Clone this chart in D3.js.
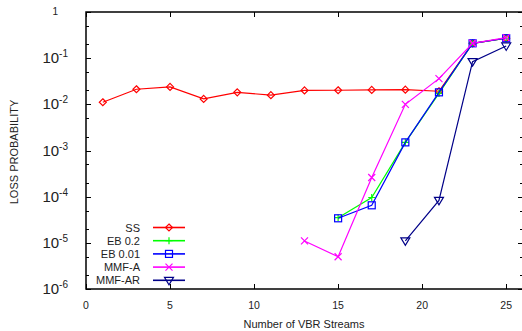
<!DOCTYPE html>
<html>
<head>
<meta charset="utf-8">
<script src="https://cdn.jsdelivr.net/npm/d3@7"></script>
<style>
  body { margin: 0; background: #fff; }
  svg { display: block; font-family: "Liberation Sans", Arial, sans-serif; }
</style>
</head>
<body>
<svg id="chart" width="522" height="331"></svg>
<script>
// values
const xOdd = [1, 3, 5, 7, 9, 11, 13, 15, 17, 19, 21, 23, 25];
const ssValues = [0.0111, 0.0212, 0.0238, 0.0131, 0.0182, 0.0158, 0.0200, 0.0202, 0.0205, 0.0208, 0.0192, 0.21, 0.27];

const xEb = [15, 17, 19, 21, 23, 25];
const eb02Values = [3.5e-5, 9.6e-5, 1.5e-3, 0.0172, 0.21, 0.27];
const eb001Values = [3.4e-5, 6.5e-5, 1.5e-3, 0.0182, 0.21, 0.27];

const xMmfA = [13, 15, 17, 19, 21, 23, 25];
const mmfAValues = [1.1e-5, 5.0e-6, 2.6e-4, 0.0100, 0.036, 0.21, 0.278];

const xMmfAr = [19, 21, 23, 25];
const mmfArValues = [1.1e-5, 8.3e-5, 0.084, 0.184];

const xTicks = [0, 5, 10, 15, 20, 25];
const yDecades = [0, -1, -2, -3, -4, -5, -6];

const series = [
  { name: 'SS', x: xOdd, y: ssValues, color: '#ff0000', marker: 'diamond' },
  { name: 'EB 0.2', x: xEb, y: eb02Values, color: '#00ff00', marker: 'plus' },
  { name: 'EB 0.01', x: xEb, y: eb001Values, color: '#0000ff', marker: 'square' },
  { name: 'MMF-A', x: xMmfA, y: mmfAValues, color: '#ff00ff', marker: 'cross' },
  { name: 'MMF-AR', x: xMmfAr, y: mmfArValues, color: '#000088', marker: 'triangle' }
];

const pL = 86, pR = 523, pT = 12, pB = 289;

const svg = d3.select('#chart');

const x = d3.scaleLinear().domain([0, 26]).range([pL, pR]);
const y = d3.scaleLog().domain([1e-6, 1]).range([pB, pT]);

// ticks (major at decades, minor at 2 and 5)
const tickG = svg.append('g').attr('stroke', '#000').attr('stroke-width', 1);
yDecades.forEach((p) => {
  const v = Math.pow(10, p);
  const yy = Math.round(y(v)) + 0.5;
  tickG.append('line').attr('x1', pL).attr('x2', pL + 5).attr('y1', yy).attr('y2', yy);
  tickG.append('line').attr('x1', pR).attr('x2', pR - 5).attr('y1', yy).attr('y2', yy);
  if (p > -6) {
    [2, 5].forEach((m) => {
      const ym = Math.round(y(m * Math.pow(10, p - 1))) + 0.5;
      tickG.append('line').attr('x1', pL).attr('x2', pL + 3).attr('y1', ym).attr('y2', ym);
      tickG.append('line').attr('x1', pR).attr('x2', pR - 3).attr('y1', ym).attr('y2', ym);
    });
  }
});
xTicks.forEach((t) => {
  const xx = Math.round(x(t)) + 0.5;
  tickG.append('line').attr('x1', xx).attr('x2', xx).attr('y1', pB).attr('y2', pB - 5);
  tickG.append('line').attr('x1', xx).attr('x2', xx).attr('y1', pT).attr('y2', pT + 5);
});

// frame
svg.append('rect')
  .attr('x', pL).attr('y', pT)
  .attr('width', pR - pL).attr('height', pB - pT)
  .attr('fill', 'none').attr('stroke', '#000').attr('stroke-width', 1.5);

// y tick labels
const yLab = svg.append('g').attr('fill', '#222');
yDecades.forEach((p) => {
  const yy = y(Math.pow(10, p));
  if (p === 0) {
    yLab.append('text').attr('x', 58).attr('y', yy + 3).attr('text-anchor', 'end')
      .attr('font-size', 10).text('1');
    return;
  }
  const t = yLab.append('text').attr('x', 68).attr('y', yy + 5).attr('text-anchor', 'end')
    .attr('font-size', 15);
  t.append('tspan').text('10');
  t.append('tspan').attr('font-size', 10).attr('dy', -6).text('-' + (-p));
});

// x tick labels
svg.append('g').selectAll('text').data(xTicks).join('text')
  .attr('x', (d) => x(d)).attr('y', 309)
  .attr('text-anchor', 'middle').attr('font-size', 10.5).attr('fill', '#222')
  .text((d) => d);

// axis titles
svg.append('text').attr('x', 304).attr('y', 328).attr('text-anchor', 'middle')
  .attr('font-size', 11).attr('fill', '#222').text('Number of VBR Streams');
svg.append('text').attr('transform', 'translate(18,152) rotate(-90)')
  .attr('text-anchor', 'middle').attr('font-size', 11).attr('fill', '#222')
  .text('LOSS PROBABILITY');

const drawMarker = (g, kind, cx, cy, color) => {
  const s = 3.5;
  if (kind === 'diamond') {
    g.append('path').attr('d', `M${cx},${cy - s}L${cx + s},${cy}L${cx},${cy + s}L${cx - s},${cy}Z`)
      .attr('fill', 'none').attr('stroke', color).attr('stroke-width', 1.2);
  } else if (kind === 'plus') {
    g.append('path').attr('d', `M${cx - s},${cy}H${cx + s}M${cx},${cy - s}V${cy + s}`)
      .attr('stroke', color).attr('stroke-width', 1.2);
  } else if (kind === 'square') {
    g.append('rect').attr('x', cx - s).attr('y', cy - s).attr('width', 2 * s).attr('height', 2 * s)
      .attr('fill', 'none').attr('stroke', color).attr('stroke-width', 1.2);
  } else if (kind === 'cross') {
    g.append('path').attr('d', `M${cx - s},${cy - s}L${cx + s},${cy + s}M${cx - s},${cy + s}L${cx + s},${cy - s}`)
      .attr('stroke', color).attr('stroke-width', 1.2);
  } else if (kind === 'triangle') {
    g.append('path').attr('d', `M${cx - 4.5},${cy - 3}L${cx + 4.5},${cy - 3}L${cx},${cy + 4.5}Z`)
      .attr('fill', 'none').attr('stroke', color).attr('stroke-width', 1.2);
  }
};

// series lines + markers
const line = d3.line().x((d) => x(d[0])).y((d) => y(d[1]));
series.forEach((s) => {
  const pts = s.x.map((xv, i) => [xv, s.y[i]]);
  const g = svg.append('g');
  g.append('path').attr('d', line(pts)).attr('fill', 'none')
    .attr('stroke', s.color).attr('stroke-width', 1.2);
  pts.forEach((p) => drawMarker(g, s.marker, x(p[0]), y(p[1]), s.color));
});

// legend
const legend = svg.append('g');
series.forEach((s, i) => {
  const ly = 227.5 + i * 13.2;
  legend.append('text').attr('x', 140).attr('y', ly + 4).attr('text-anchor', 'end')
    .attr('font-size', 11).attr('fill', '#222').text(s.name);
  legend.append('line').attr('x1', 153).attr('x2', 185).attr('y1', ly).attr('y2', ly)
    .attr('stroke', s.color).attr('stroke-width', 1.6);
  drawMarker(legend, s.marker, 169, ly, s.color);
});
</script>
</body>
</html>
